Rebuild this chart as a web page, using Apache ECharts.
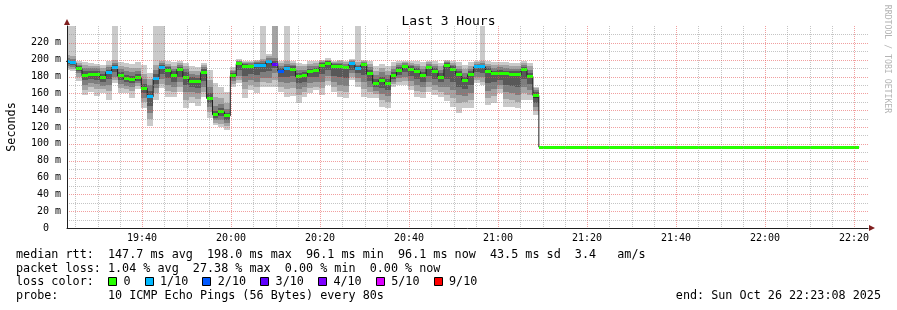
<!DOCTYPE html>
<html><head><meta charset="utf-8">
<script src="https://cdn.jsdelivr.net/npm/echarts@6/dist/echarts.min.js"></script>
<style>html,body{margin:0;padding:0;background:#fff}#c{width:897px;height:310px}</style>
</head><body><div id="c"></div>
<script>
// ---------- data ----------
// x values are seconds after 19:00:00; one RRD step = 80 s
const viewStart = 1388;            // 19:23:08
const viewEnd = 12188;             // 22:23:08
const firstSampleStart = 1350;
const sampleStep = 80;

const xTickSeconds = [2400, 3600, 4800, 6000, 7200, 8400, 9600, 10800, 12000];
const xTickLabels = ['19:40', '20:00', '20:20', '20:40', '21:00', '21:20', '21:40', '22:00', '22:20'];

// median rtt in ms per sample
const median = [
  198.0,196.4,189.3,181.0,182.7,182.7,178.6,184.9,190.5,180.6,
  177.7,176.2,178.9,165.8,156.0,177.4,190.5,187.3,181.3,188.5,
  179.4,174.2,173.5,184.5,153.9,134.5,138.1,133.3,181.0,195.2,
  192.0,191.3,193.2,193.2,197.6,194.4,186.5,189.3,188.9,179.8,
  181.3,186.1,186.9,193.2,196.0,191.7,191.7,190.1,194.9,189.7,
  194.0,183.3,171.8,175.0,171.8,181.0,187.7,191.7,188.9,186.1,
  181.3,190.8,186.5,179.4,193.2,188.9,182.5,175.8,182.1,191.3,
  191.3,186.5,183.7,184.0,183.5,182.0,181.8,188.5,180.1,157.5,
  96.1,96.1,96.1,96.1,96.1,96.1,96.1,96.1,96.1,96.1,
  96.1,96.1,96.1,96.1,96.1,96.1,96.1,96.1,96.1,96.1,
  96.1,96.1,96.1,96.1,96.1,96.1,96.1,96.1,96.1,96.1,
  96.1,96.1,96.1,96.1,96.1,96.1,96.1,96.1,96.1,96.1,
  96.1,96.1,96.1,96.1,96.1,96.1,96.1,96.1,96.1,96.1,
  96.1,96.1,96.1,96.1
];
// lost pings (out of 10) per sample
const loss = [
  1,1,0,0,0,0,0,1,1,0, 0,0,0,0,1,1,1,0,0,0, 0,0,0,0,0,0,0,0,0,0,
  0,0,1,1,1,3,2,1,0,0, 0,0,0,0,0,0,0,0,1,1, 0,0,0,0,0,0,0,0,0,0,
  0,0,0,0,0,0,0,0,0,1, 1,0,0,0,0,0,0,0,0,0,
  0,0,0,0,0,0,0,0,0,0, 0,0,0,0,0,0,0,0,0,0, 0,0,0,0,0,0,0,0,0,0,
  0,0,0,0,0,0,0,0,0,0, 0,0,0,0,0,0,0,0,0,0, 0,0,0,0
];
// the 10 sorted ping times (ms) per sample, for the smoke
const smoke = [
  [188,190,193,195,197,199,200,202,205,280],
  [186,189,191,194,195.5,197,199,201,204,260],
  [175,180,184,187,188.5,190,192,194,196,198],
  [158,164,170,176,180,182,186,190,194,197],
  [162,167,172,177,181.5,184,187,190,193,196],
  [157,165,171,176,181.5,184,187,190,193,195],
  [160,165,169,174,177.5,180,183,186,190,194],
  [152,163,170,177,184,186,188,191,194,198],
  [172,176,180,185,189.5,191.5,194,196,200,270],
  [160,166,171,176,179.5,181.5,185,189,193,197],
  [160,165,169,173,176.5,179,182,186,191,196],
  [155,163,168,172,175,177.5,181,185,190,195],
  [165,169,172,175,178,180,183,186,190,197],
  [142,150,155,160,164.5,167,171,177,183,194],
  [121,130,137,145,154,158,163,170,177,184],
  [152,160,166,171,176,179,183,188,194,265],
  [166,171,177,183,189,192,194,196,199,265],
  [156,163,170,178,186,188.5,191,193,195,198],
  [156,162,168,174,180,182.5,186,189,193,197],
  [161,167,173,180,187.5,189.5,191.5,193.5,196,198],
  [143,152,162,170,178,181,185,189,193,196],
  [149,156,162,168,173,175.5,179,183,187,192],
  [145,153,160,166,172.5,174.5,178,182,187,191],
  [156,162,168,175,183,186,189,191,194,196],
  [131,138,144,149,152.5,155.5,160,167,176,188],
  [122,125,128,131,133.5,135.5,139,145,156,172],
  [120,124,128,133,137,139,142,147,155,168],
  [117,121,125,128.5,132.5,134,137,141,148,161],
  [167,171,175,178,180.5,182,184,186,188,191],
  [172,176,181,188,194.5,196,197,198,199,201],
  [155,165,173,181,191,193,194.5,196,197.5,199],
  [164,170,176,183,190,192.5,194,195.5,197,199],
  [160,167,174,182,192,194,195.5,197,198.5,200],
  [168,173,178,185,192,194.5,196,198,201,265],
  [167,172,178,186,196.5,198.5,200,202,204,207],
  [167,176,184,190,193.5,195.5,198,202,265,270],
  [162,168,174,180,185.5,187.5,190,193,196,199],
  [156,165,172,180,188.5,190,192,195,198,265],
  [157,166,173,181,188,190,192,194,196,198],
  [149,158,165,172,179,181,184,188,192,196],
  [156,162,168,174,180.5,182,185,188,192,195],
  [160,166,172,179,185,187,189.5,192,195,198],
  [164,168,173,180,186,188,190,193,195.5,198],
  [158,166,174,183,192,194,195.5,197,198.5,200],
  [170,175,181,188,195,197,198,199,200,202],
  [162,168,174,181,190.5,193,194.5,196,197.5,199],
  [156,163,170,179,190.5,193,194.5,196,198,200],
  [155,162,169,178,189,191,193,195,197,199],
  [176,180,184,188,194,196,197,198,199.5,201],
  [168,173,178,184,189,190.5,192,194,197,265],
  [156,165,173,182,193,195,196,197,198.5,200],
  [155,162,168,175,182,184.5,188,191,195,198],
  [155,159,163,167,171,173,177,182,187,192],
  [144,152,159,166,174,176,180,185,190,195],
  [143,150,157,164,171,173,177,182,187,192],
  [168,171,174,177,180,182,185,189,193,197],
  [170,174,178,182,187,188.5,191,193.5,196,198],
  [170,175,180,185,191,192.5,194,195.5,197,199],
  [164,169,175,181,188,190,192,194,196,198],
  [156,163,170,177,185,187,190,192.5,195,198],
  [155,161,167,174,180.5,182,185,189,193,197],
  [162,168,174,181,190,191.5,193,195,197,199],
  [158,164,170,177,185.5,187.5,190,192.5,195,198],
  [156,162,168,173,178.5,180.5,184,188,192,196],
  [151,158,167,177,192,194,195.5,197,198.5,200],
  [144,155,164,174,188,190,192,194,196,198],
  [137,148,158,168,181.5,183.5,186,189,193,197],
  [143,150,157,165,175,177,180,184,189,194],
  [143,152,160,170,181,183,186,189,193,197],
  [172,176,180,185,190.5,192,193.5,195,197,199],
  [170,174,179,184,190.5,192,194,196,198,265],
  [146,155,163,172,185.5,187.5,190,192,195,198],
  [149,157,165,173,183,184.5,187,190,194,197],
  [160,165,170,176,183.5,185,188,191,194,197],
  [144,153,161,170,183,184.5,187,190,194,197],
  [144,152,160,169,181.5,183,186,189,193,196],
  [143,150,158,168,181,183,186,189,193,196],
  [152,160,168,177,188,189.5,191.5,193.5,196,198],
  [152,158,164,171,179.5,181,184,188,192,196],
  [134,139,144,149,155,159,162,164,166,168]
];

const lossLegendLabels = ['0', '1/10', '2/10', '3/10', '4/10', '5/10', '9/10'];
const lossLegendKeys = [0, 1, 2, 3, 4, 5, 9];
const statsLine1 = 'median rtt:  147.7 ms avg  198.0 ms max  96.1 ms min  96.1 ms now  43.5 ms sd  3.4   am/s';
const statsLine2 = 'packet loss: 1.04 % avg  27.38 % max  0.00 % min  0.00 % now';
const probeLine = 'probe:       10 ICMP Echo Pings (56 Bytes) every 80s';
const endLine = 'end: Sun Oct 26 22:23:08 2025';

// ---------- styles ----------
const FONT = 'DejaVu Sans Mono';
const smokeColors = ['#cacaca', '#a4a4a4', '#7e7e7e', '#585858', '#323232'];
const lossColors = {0:'#26ff00', 1:'#00b8ff', 2:'#0059ff', 3:'#5e00ff', 4:'#7e00ff', 5:'#dd00ff', 9:'#ff0000'};
const gridMinor = 'rgba(150,150,150,0.55)';
const gridMajor = 'rgba(230,80,80,0.55)';

// ---------- build ----------
const sampleData = median.map((m, i) => [firstSampleStart + i * sampleStep, firstSampleStart + (i + 1) * sampleStep, i]);
const smokeData = sampleData.filter(d => smoke[d[2]]);
const lineData = median.map((m, i) => [firstSampleStart + i * sampleStep, m]);
lineData.push([firstSampleStart + median.length * sampleStep, median[median.length - 1]]);

const vMinor = [], vMajor = [];
for (let t = 1500; t <= viewEnd; t += 300) (t % 1200 === 0 ? vMajor : vMinor).push([t]);
const hMinor = [], hMajor = [];
for (let v = 10; v <= 230; v += 10) (v % 20 === 0 ? hMajor : hMinor).push([v]);

function csRect(params) {
  const cs = params.coordSys;
  return {x: cs.x, y: cs.y, width: cs.width, height: cs.height};
}

function renderSmoke(params, api) {
  const row = smoke[api.value(2)];
  const x0 = Math.round(api.coord([api.value(0), 0])[0]);
  const x1 = Math.round(api.coord([api.value(1), 0])[0]);
  const children = [];
  for (let b = 0; b < 5; b++) {
    const yTop = Math.round(api.coord([api.value(0), row[9 - b]])[1]);
    const yBot = Math.round(api.coord([api.value(0), row[b]])[1]);
    const r = echarts.graphic.clipRectByRect({x: x0, y: yTop, width: x1 - x0, height: Math.max(1, yBot - yTop)}, csRect(params));
    if (r) children.push({type: 'rect', shape: r, style: {fill: smokeColors[b]}});
  }
  return {type: 'group', children};
}

function renderMedian(params, api) {
  const i = api.value(2);
  const x0 = Math.round(api.coord([api.value(0), 0])[0]);
  const x1 = Math.round(api.coord([api.value(1), 0])[0]);
  const y = api.coord([api.value(0), median[i]])[1];
  const r = echarts.graphic.clipRectByRect({x: x0, y: Math.round(y - 1.5), width: x1 - x0, height: 3}, csRect(params));
  if (!r) return null;
  return {type: 'rect', shape: r, style: {fill: lossColors[loss[i]]}};
}

function vGridRenderer(color) {
  return function (params, api) {
    const cs = params.coordSys;
    const x = Math.round(api.coord([api.value(0), 0])[0]) + 0.5;
    return {type: 'line', shape: {x1: x, y1: cs.y, x2: x, y2: cs.y + cs.height},
      style: {stroke: color, lineWidth: 1, lineDash: [1, 1]}};
  };
}
function hGridRenderer(color) {
  return function (params, api) {
    const cs = params.coordSys;
    const y = Math.round(api.coord([viewStart, api.value(0)])[1]) + 0.5;
    return {type: 'line', shape: {x1: cs.x, y1: y, x2: cs.x + cs.width, y2: y},
      style: {stroke: color, lineWidth: 1, lineDash: [1, 1]}};
  };
}

function fmtTick(v) {
  const k = xTickSeconds.indexOf(v);
  return k >= 0 ? xTickLabels[k] : '';
}

const graphics = [];
const txt = (x, y, text, extra) => graphics.push(Object.assign({type: 'text', x, y,
  style: Object.assign({text, fontFamily: FONT, fontSize: 11.75, fill: '#000', verticalAlign: 'middle', align: 'left'}, (extra || {}))}));
txt(16, 255, statsLine1);
txt(16, 268.5, statsLine2);
txt(16, 282, 'loss color:');
const boxX = [108, 144.6, 202.4, 260.2, 318, 375.8, 433.6];
lossLegendLabels.forEach((lab, k) => {
  graphics.push({type: 'rect', shape: {x: Math.round(boxX[k]) + 0.5, y: 277.5, width: 8, height: 8},
    style: {fill: lossColors[lossLegendKeys[k]], stroke: '#000', lineWidth: 1}});
  txt(boxX[k] + 15.4, 282, lab);
});
txt(16, 296, probeLine);
txt(881, 296, endLine, {align: 'right'});
graphics.push({type: 'text', x: 887, y: 59, rotation: -Math.PI / 2,
  style: {text: 'RRDTOOL / TOBI OETIKER', fontFamily: FONT, fontSize: 8.2, fill: '#b4b4b4', align: 'center', verticalAlign: 'middle'}});
// axis arrows
graphics.push({type: 'polygon', shape: {points: [[64, 25], [70, 25], [67, 19]]}, style: {fill: '#801f1f'}});
graphics.push({type: 'polygon', shape: {points: [[869, 225], [869, 231], [875, 228]]}, style: {fill: '#801f1f'}});

const gridSeries = (data, renderItem, dim) => ({type: 'custom', data, renderItem,
  encode: dim === 'x' ? {x: 0} : {y: 0}, z: 5, silent: true});

const chart = echarts.init(document.getElementById('c'), null, {renderer: 'canvas'});
chart.setOption({
  backgroundColor: '#ffffff',
  animation: false,
  title: {text: 'Last 3 Hours', left: 'center', top: 10,
    textStyle: {fontFamily: FONT, fontSize: 13, fontWeight: 'normal', color: '#000'}},
  grid: {left: 67, right: 29, top: 26, bottom: 82, containLabel: false, outerBoundsMode: 'none'},
  xAxis: {type: 'value', min: viewStart, max: viewEnd, z: 10,
    axisLine: {lineStyle: {color: '#1f1f1f', width: 1}},
    axisTick: {show: false},
    splitLine: {show: false},
    axisLabel: {customValues: xTickSeconds, formatter: fmtTick, fontFamily: FONT, fontSize: 10, color: '#000', margin: 5}},
  yAxis: {type: 'value', min: 0, max: 240, interval: 20, z: 10,
    name: 'Seconds', nameLocation: 'middle', nameRotate: 90, nameGap: 49,
    nameTextStyle: {fontFamily: FONT, fontSize: 11.75, color: '#000'},
    axisLine: {show: true, lineStyle: {color: '#1f1f1f', width: 1}},
    axisTick: {show: false},
    splitLine: {show: false},
    axisLabel: {fontFamily: FONT, fontSize: 10, color: '#000', margin: 6,
      formatter: v => v === 0 ? '0  ' : (v >= 240 ? '' : v + ' m')}},
  series: [
    {type: 'custom', name: 'smoke', data: smokeData, renderItem: renderSmoke, encode: {x: [0, 1]}, z: 2, silent: true},
    {type: 'line', name: 'median line', data: lineData, step: 'end', symbol: 'none',
      lineStyle: {color: '#202020', width: 1}, z: 3, silent: true},
    {type: 'custom', name: 'median', data: sampleData, renderItem: renderMedian, encode: {x: [0, 1]}, z: 4, silent: true},
    gridSeries(vMinor, vGridRenderer(gridMinor), 'x'),
    gridSeries(vMajor, vGridRenderer(gridMajor), 'x'),
    gridSeries(hMinor, hGridRenderer(gridMinor), 'y'),
    gridSeries(hMajor, hGridRenderer(gridMajor), 'y')
  ],
  graphic: graphics
});
</script></body></html>
